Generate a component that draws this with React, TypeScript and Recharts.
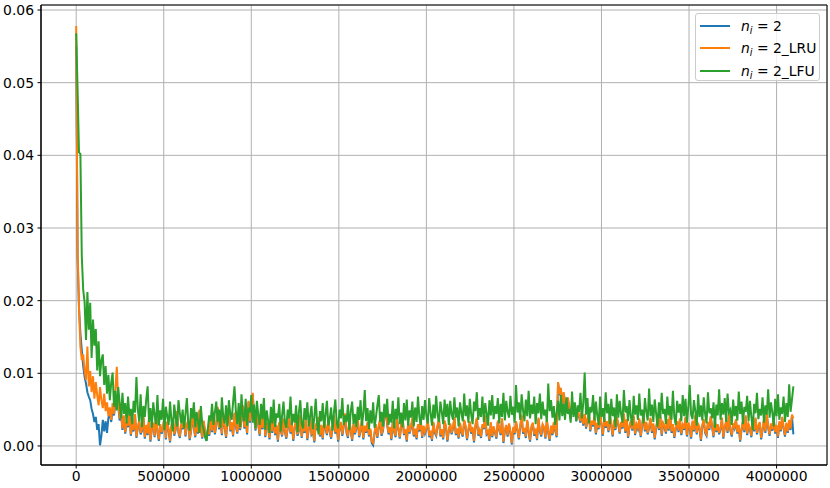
import React from 'react';
import { LineChart, Line, XAxis, YAxis, CartesianGrid, ReferenceArea } from 'recharts';

const X_STEP = 8000;

const nI2 = [
  55.0, 26.0, 19.0, 15.5, 13.2, 11.0, 9.5, 8.6, 7.4, 6.8,
  6.3, 5.1, 4.4, 3.3, 4.0, 2.2, 3.0, 0.1, 1.4, 3.6,
  2.0, 3.4, 1.8, 3.9, 4.5, 3.3, 5.0, 4.2, 5.8, 6.4,
  5.6, 3.5, 4.7, 2.2, 4.0, 1.7, 3.1, 2.6, 4.4, 1.4,
  2.9, 2.0, 4.2, 1.1, 2.5, 3.3, 1.6, 2.1, 3.9, 1.0,
  2.7, 1.5, 3.6, 0.6, 2.3, 3.0, 1.2, 4.3, 1.9, 0.7,
  2.8, 1.7, 2.4, 4.0, 0.9, 3.2, 2.1, 0.5, 2.6, 3.7,
  1.4, 2.2, 4.6, 1.8, 1.1, 2.9, 2.3, 3.8, 1.3, 2.7,
  3.4, 0.8, 2.0, 4.1, 2.5, 1.2, 3.1, 1.7, 4.8, 2.4,
  1.0, 3.3, 1.8, 0.7, 2.2, 1.4, 3.6, 1.9, 4.5, 1.6,
  2.8, 5.2, 2.3, 3.7, 1.5, 4.2, 2.6, 1.1, 3.4, 4.9,
  2.0, 3.1, 1.3, 4.4, 2.7, 1.7, 3.9, 2.2, 3.5, 5.4,
  2.4, 3.8, 1.6, 6.0, 3.2, 5.3, 7.1, 4.0, 2.1, 4.8,
  2.9, 1.4, 3.7, 2.3, 4.6, 1.2, 3.0, 2.5, 0.9, 3.4,
  1.8, 4.2, 1.5, 2.7, 0.6, 3.1, 2.2, 1.3, 3.6, 1.9,
  1.0, 2.4, 3.9, 1.7, 2.8, 0.7, 2.5, 3.3, 1.4, 2.1,
  4.1, 1.1, 2.6, 1.8, 3.4, 0.8, 2.3, 3.7, 1.6, 2.0,
  0.5, 2.9, 2.2, 3.8, 1.3, 2.7, 0.9, 3.2, 2.4, 1.5,
  3.6, 1.9, 1.0, 2.5, 4.0, 1.7, 2.8, 0.6, 2.3, 3.1,
  1.4, 2.7, 4.3, 1.8, 1.1, 3.3, 2.1, 0.7, 2.9, 1.6,
  2.4, 3.7, 1.2, 2.0, 3.4, 0.9, 2.6, 1.8, 3.1, 1.3,
  2.2, 0.4, 0.1, 1.7, 2.8, 1.1, 2.5, 3.6, 1.4, 2.1,
  3.8, 5.0, 2.9, 1.6, 2.4, 0.8, 3.2, 1.9, 1.2, 3.5,
  2.3, 1.0, 2.7, 3.9, 1.5, 2.1, 0.6, 3.0, 1.7, 2.5,
  3.7, 1.3, 2.2, 0.9, 2.8, 2.0, 3.4, 1.1, 2.6, 1.7,
  2.3, 3.5, 1.2, 1.9, 0.7, 3.1, 1.8, 1.4, 2.7, 3.6,
  1.3, 2.1, 0.9, 3.3, 2.5, 0.6, 2.0, 2.9, 1.6, 2.4,
  3.8, 1.5, 2.2, 1.0, 3.0, 1.8, 1.3, 3.4, 2.6, 0.8,
  2.1, 3.2, 1.7, 2.4, 0.5, 2.7, 3.7, 1.4, 2.0, 1.1,
  2.8, 2.3, 4.0, 1.6, 1.9, 0.7, 3.1, 1.2, 2.5, 1.8,
  1.0, 3.3, 2.2, 1.5, 3.6, 0.4, 2.0, 2.7, 1.3, 2.9,
  1.8, 0.2, 2.4, 1.6, 3.2, 2.1, 0.9, 2.6, 4.1, 1.7,
  2.3, 1.1, 3.4, 1.9, 0.6, 2.5, 3.0, 1.4, 2.2, 0.8,
  3.7, 2.0, 1.3, 2.8, 2.4, 1.0, 3.5, 1.8, 0.7, 2.6,
  1.5, 3.1, 2.1, 1.2, 8.6, 7.3, 7.8, 5.4, 7.2, 5.9,
  4.6, 6.5, 5.1, 3.7, 5.8, 4.3, 5.5, 3.4, 4.9, 4.0,
  3.2, 4.7, 2.8, 4.2, 2.4, 3.6, 4.4, 2.0, 3.3, 2.7,
  3.9, 1.6, 3.0, 2.3, 4.5, 2.8, 1.4, 3.7, 2.5, 3.2,
  1.9, 4.1, 2.7, 1.3, 3.4, 2.2, 3.8, 2.9, 1.7, 3.1,
  2.4, 4.3, 1.8, 3.5, 1.1, 2.6, 3.3, 2.1, 4.0, 1.5,
  2.8, 2.3, 3.6, 1.2, 2.7, 4.2, 2.0, 3.1, 1.6, 2.5,
  3.7, 1.8, 2.9, 0.9, 2.4, 3.4, 2.2, 3.9, 1.4, 3.0,
  2.6, 1.7, 3.5, 2.1, 4.4, 1.8, 2.8, 1.1, 2.3, 3.2,
  1.9, 3.6, 1.5, 2.7, 2.2, 3.8, 1.3, 3.0, 2.5, 1.0,
  3.3, 2.0, 4.1, 1.6, 2.8, 2.4, 0.7, 2.7, 3.5, 1.8,
  1.4, 3.1, 2.2, 3.9, 2.6, 1.2, 3.4, 1.9, 2.8, 1.6,
  2.3, 3.7, 1.0, 2.5, 3.2, 1.8, 4.2, 2.1, 1.3, 2.9,
  2.4, 3.5, 1.7, 2.7, 0.6, 2.2, 3.3, 1.9, 4.0, 1.5,
  2.8, 2.3, 1.2, 3.4, 2.0, 3.7, 1.6, 2.6, 3.1, 0.9,
  2.2, 3.5, 1.8, 4.3, 2.5, 1.4, 2.9, 2.1, 3.6, 1.7,
  2.7, 1.1, 3.2, 2.0, 3.8, 2.4, 1.3, 3.0, 1.8, 3.4,
  2.2, 4.1, 1.6,
];

const nI2Lru = [
  57.8, 27.2, 19.0, 13.7, 11.8, 12.6, 10.4, 9.1, 13.7, 8.2,
  10.3, 7.4, 9.6, 6.5, 8.8, 7.0, 5.6, 8.1, 6.3, 5.2,
  7.2, 4.8, 6.0, 4.1, 5.3, 3.6, 5.9, 4.4, 7.8, 10.9,
  6.1, 3.8, 5.0, 2.4, 4.2, 1.9, 3.3, 2.8, 4.6, 1.6,
  3.1, 2.2, 4.4, 1.3, 2.7, 3.5, 1.8, 2.3, 4.1, 1.2,
  2.9, 1.7, 3.8, 0.8, 2.5, 3.2, 1.4, 4.5, 2.1, 0.9,
  3.0, 1.9, 2.6, 4.2, 1.1, 3.4, 2.3, 0.7, 2.8, 3.9,
  1.6, 2.4, 4.8, 2.0, 1.3, 3.1, 2.5, 4.0, 1.5, 2.9,
  3.6, 1.0, 2.2, 4.3, 2.7, 1.4, 3.3, 1.9, 5.0, 2.6,
  1.2, 3.5, 2.0, 0.9, 2.4, 1.6, 3.8, 2.1, 4.7, 1.8,
  3.0, 5.4, 2.5, 3.9, 1.7, 4.4, 2.8, 1.3, 3.6, 5.1,
  2.2, 3.3, 1.5, 4.6, 2.9, 1.9, 4.1, 2.4, 3.7, 5.6,
  2.6, 4.0, 1.8, 6.2, 3.4, 5.5, 7.3, 4.2, 2.3, 5.0,
  3.1, 1.6, 3.9, 2.5, 4.8, 1.4, 3.2, 2.7, 1.1, 3.6,
  2.0, 4.4, 1.7, 2.9, 0.8, 3.3, 2.4, 1.5, 3.8, 2.1,
  1.2, 2.6, 4.1, 1.9, 3.0, 0.9, 2.7, 3.5, 1.6, 2.3,
  4.3, 1.3, 2.8, 2.0, 3.6, 1.0, 2.5, 3.9, 1.8, 2.2,
  0.7, 3.1, 2.4, 4.0, 1.5, 2.9, 1.1, 3.4, 2.6, 1.7,
  3.8, 2.1, 1.2, 2.7, 4.2, 1.9, 3.0, 0.8, 2.5, 3.3,
  1.6, 2.9, 4.5, 2.0, 1.3, 3.5, 2.3, 0.9, 3.1, 1.8,
  2.6, 3.9, 1.4, 2.2, 3.6, 1.1, 2.8, 2.0, 3.3, 1.5,
  2.4, 0.6, 0.4, 1.9, 3.0, 1.3, 2.7, 3.8, 1.6, 2.3,
  4.0, 5.2, 3.1, 1.8, 2.6, 1.0, 3.4, 2.1, 1.4, 3.7,
  2.5, 1.2, 2.9, 4.1, 1.7, 2.3, 0.8, 3.2, 1.9, 2.7,
  3.9, 1.5, 2.4, 1.1, 3.0, 2.2, 3.6, 1.3, 2.8, 1.9,
  2.5, 3.7, 1.4, 2.1, 0.9, 3.3, 2.0, 1.6, 2.9, 3.8,
  1.5, 2.3, 1.1, 3.5, 2.7, 0.8, 2.2, 3.1, 1.8, 2.6,
  4.0, 1.7, 2.4, 1.2, 3.2, 2.0, 1.5, 3.6, 2.8, 1.0,
  2.3, 3.4, 1.9, 2.6, 0.7, 2.9, 3.9, 1.6, 2.2, 1.3,
  3.0, 2.5, 4.2, 1.8, 2.1, 0.9, 3.3, 1.4, 2.7, 2.0,
  1.2, 3.5, 2.4, 1.7, 3.8, 0.6, 2.2, 2.9, 1.5, 3.1,
  2.0, 0.4, 2.6, 1.8, 3.4, 2.3, 1.1, 2.8, 4.3, 1.9,
  2.5, 1.3, 3.6, 2.1, 0.8, 2.7, 3.2, 1.6, 2.4, 1.0,
  3.9, 2.2, 1.5, 3.0, 2.6, 1.2, 3.7, 2.0, 0.9, 2.8,
  1.7, 3.3, 2.3, 1.4, 8.8, 7.2, 8.0, 5.6, 7.4, 6.1,
  4.8, 6.7, 5.3, 3.9, 6.0, 4.5, 5.7, 3.6, 5.1, 4.2,
  3.4, 4.9, 3.0, 4.4, 2.6, 3.8, 4.6, 2.2, 3.5, 2.9,
  4.1, 1.8, 3.2, 2.5, 4.7, 3.0, 1.6, 3.9, 2.7, 3.4,
  2.1, 4.3, 2.9, 1.5, 3.6, 2.4, 4.0, 3.1, 1.9, 3.3,
  2.6, 4.5, 2.0, 3.7, 1.3, 2.8, 3.5, 2.3, 4.2, 1.7,
  3.0, 2.5, 3.8, 1.4, 2.9, 4.4, 2.2, 3.3, 1.8, 2.7,
  3.9, 2.0, 3.1, 1.1, 2.6, 3.6, 2.4, 4.1, 1.6, 3.2,
  2.8, 1.9, 3.7, 2.3, 4.6, 2.0, 3.0, 1.3, 2.5, 3.4,
  2.1, 3.8, 1.7, 2.9, 2.4, 4.0, 1.5, 3.2, 2.7, 1.2,
  3.5, 2.2, 4.3, 1.8, 3.0, 2.6, 0.9, 2.9, 3.7, 2.0,
  1.6, 3.3, 2.4, 4.1, 2.8, 1.4, 3.6, 2.1, 3.0, 1.8,
  2.5, 3.9, 1.2, 2.7, 3.4, 2.0, 4.4, 2.3, 1.5, 3.1,
  2.6, 3.7, 1.9, 2.9, 0.8, 2.4, 3.5, 2.1, 4.2, 1.7,
  3.0, 2.5, 1.4, 3.6, 2.2, 3.9, 1.8, 2.8, 3.3, 1.1,
  2.4, 3.7, 2.0, 4.5, 2.7, 1.6, 3.1, 2.3, 3.8, 1.9,
  2.9, 1.3, 3.4, 2.2, 4.0, 2.6, 1.5, 3.2, 2.0, 3.6,
  2.4, 4.3, 3.8,
];

const nI2Lfu = [
  56.8, 49.0, 40.4, 40.2, 26.1, 21.5, 19.8, 14.6, 21.2, 16.0,
  19.7, 12.1, 17.4, 13.8, 16.1, 10.4, 14.4, 9.6, 11.8, 12.6,
  8.4, 11.0, 7.2, 9.8, 6.3, 8.7, 10.1, 5.4, 7.6, 4.9,
  8.1, 6.0, 3.8, 7.3, 4.4, 5.9, 3.1, 6.8, 4.2, 5.1,
  3.0, 6.2, 4.6, 9.5, 5.0, 3.4, 7.1, 2.6, 5.5, 4.0,
  6.4, 8.2, 3.3, 5.2, 2.5, 6.0, 4.3, 3.0, 7.0, 2.8,
  4.9, 3.6, 6.5, 2.2, 5.4, 4.1, 2.9, 6.1, 3.5, 2.0,
  5.7, 3.9, 2.7, 6.3, 4.5, 3.1, 5.0, 2.4, 4.4, 6.6,
  3.2, 2.1, 5.2, 3.8, 6.0, 2.6, 4.7, 3.3, 1.8, 5.5,
  3.0, 2.3, 1.2, 0.7, 2.4, 4.2, 3.4, 5.8, 2.9, 4.6,
  6.1, 3.3, 5.0, 2.5, 6.7, 4.0, 3.1, 5.6, 2.7, 6.3,
  4.4, 3.6, 6.0, 8.2, 4.8, 3.0, 5.9, 2.6, 7.1, 4.1,
  3.4, 6.5, 2.8, 5.3, 4.6, 7.0, 3.2, 5.7, 2.4, 6.2,
  4.3, 2.9, 5.8, 3.7, 6.6, 2.2, 4.9, 3.5, 1.8, 5.4,
  3.1, 6.4, 2.6, 4.5, 3.9, 5.8, 2.0, 4.2, 6.1, 3.3,
  2.5, 5.0, 3.8, 6.8, 2.9, 4.4, 3.2, 5.6, 1.9, 4.7,
  6.3, 3.0, 2.4, 5.2, 3.6, 6.0, 2.7, 4.1, 5.5, 2.3,
  3.9, 6.5, 3.1, 1.6, 4.8, 3.4, 5.9, 2.5, 4.3, 6.2,
  2.8, 3.7, 5.3, 2.1, 4.6, 6.4, 3.2, 2.4, 5.0, 3.8,
  6.6, 2.9, 4.2, 3.3, 5.7, 2.2, 4.8, 6.1, 3.0, 4.4,
  2.6, 5.4, 3.6, 6.3, 2.8, 4.5, 7.7, 3.4, 5.2, 2.3,
  4.9, 3.1, 6.0, 2.5, 4.0, 5.6, 7.0, 3.3, 4.7, 2.7,
  5.8, 3.9, 6.5, 2.9, 4.4, 3.2, 6.2, 2.4, 5.1, 3.7,
  6.7, 3.0, 4.6, 2.6, 5.9, 3.5, 6.4, 2.8, 4.9, 3.9,
  6.1, 2.7, 5.3, 3.3, 6.8, 4.0, 2.9, 5.5, 3.6, 6.3,
  4.1, 3.1, 6.6, 4.5, 2.8, 5.7, 3.8, 6.9, 4.2, 3.3,
  6.1, 4.7, 3.0, 6.4, 4.0, 5.8, 2.9, 6.2, 4.4, 3.6,
  6.7, 3.9, 5.3, 2.7, 6.0, 4.6, 3.4, 7.2, 4.1, 5.6,
  3.2, 6.5, 4.3, 3.0, 6.1, 4.8, 7.4, 3.6, 5.2, 4.0,
  6.8, 3.3, 5.9, 4.5, 2.8, 6.3, 4.2, 7.0, 3.7, 5.5,
  4.4, 6.6, 3.1, 5.8, 4.0, 7.3, 3.5, 6.2, 4.7, 3.9,
  6.9, 4.3, 5.4, 3.2, 8.4, 4.6, 6.0, 3.6, 7.1, 4.9,
  3.4, 6.4, 4.1, 7.6, 3.8, 5.7, 4.4, 6.8, 3.0, 5.9,
  4.5, 7.2, 3.7, 6.1, 4.2, 5.0, 3.3, 8.6, 4.8, 6.3,
  3.9, 5.5, 2.9, 4.6, 6.2, 3.5, 7.0, 4.1, 5.8, 3.6,
  6.7, 4.4, 5.1, 3.2, 7.5, 4.0, 6.0, 3.4, 5.6, 4.7,
  7.3, 3.8, 5.9, 10.1, 4.3, 6.6, 3.1, 5.4, 4.6, 7.0,
  3.5, 6.1, 4.2, 2.9, 6.8, 4.0, 5.2, 3.3, 7.4, 4.5,
  5.8, 3.0, 6.5, 4.1, 5.3, 2.6, 7.1, 3.9, 6.2, 4.4,
  3.2, 7.7, 4.6, 5.5, 3.4, 6.3, 4.0, 2.8, 6.9, 4.3,
  5.6, 3.6, 7.2, 4.2, 5.0, 3.1, 6.6, 4.7, 3.5, 7.9,
  4.1, 5.7, 3.3, 6.4, 4.5, 2.7, 6.0, 3.8, 7.3, 4.4,
  5.1, 3.0, 6.8, 4.2, 5.5, 3.6, 7.6, 4.0, 2.9, 6.2,
  4.6, 5.8, 3.4, 7.0, 4.1, 6.5, 3.2, 5.3, 8.4, 4.3,
  3.7, 6.3, 4.8, 2.8, 7.1, 4.0, 5.6, 3.5, 6.7, 4.4,
  3.1, 7.4, 4.5, 5.2, 3.8, 6.0, 2.5, 5.7, 4.2, 7.8,
  3.6, 5.9, 4.3, 6.6, 3.3, 7.2, 4.6, 5.0, 2.9, 6.4,
  4.1, 5.5, 3.5, 7.5, 4.4, 6.1, 3.0, 5.4, 4.7, 6.9,
  3.4, 6.2, 4.0, 2.2, 5.8, 4.5, 7.3, 3.7, 5.1, 4.2,
  6.7, 3.2, 5.6, 4.3, 7.8, 3.9, 6.0, 4.6, 2.7, 6.5,
  4.1, 7.1, 3.6, 5.3, 4.4, 6.8, 3.3, 5.9, 4.0, 8.5,
  4.7, 6.4, 8.2,
];

const X_TICKS = [0, 500000, 1000000, 1500000, 2000000, 2500000, 3000000, 3500000, 4000000];
const Y_TICKS = [0, 0.01, 0.02, 0.03, 0.04, 0.05, 0.06];

const X_DOMAIN: [number, number] = [-201000, 4288000];
const Y_DOMAIN: [number, number] = [-0.00262, 0.06069];

const SERIES = [
  { key: 'blue', label: '2', color: '#1f77b4' },
  { key: 'orange', label: '2_LRU', color: '#ff7f0e' },
  { key: 'green', label: '2_LFU', color: '#2ca02c' },
];

const FONT = '"DejaVu Sans", sans-serif';
const tickStyle = { fontSize: 13.9, fill: '#000', fontFamily: FONT };

const rows = nI2.map((v, i) => ({
  x: i * X_STEP,
  blue: v / 1000,
  orange: nI2Lru[i] / 1000,
  green: nI2Lfu[i] / 1000,
}));

const MathLabel = ({ suffix }: { suffix: string }) => (
  <span>
    <i>n</i>
    <i style={{ fontSize: '0.7em', position: 'relative', top: '0.3em' }}>i</i>
    {' = '}
    {suffix}
  </span>
);

export default function App() {
  return (
    <div style={{ position: 'absolute', left: 0, top: 0, width: 830, height: 488, background: '#fff', fontFamily: FONT }}>
      <LineChart width={830} height={488} data={rows} margin={{ top: 5, right: 3, bottom: 0, left: 0 }}>
        <CartesianGrid stroke="#b0b0b0" strokeWidth={1} />
        <XAxis
          type="number"
          dataKey="x"
          domain={X_DOMAIN}
          ticks={X_TICKS}
          allowDataOverflow
          height={23}
          tickSize={3.5}
          tickMargin={3}
          stroke="#000"
          tick={tickStyle}
          interval={0}
        />
        <YAxis
          type="number"
          domain={Y_DOMAIN}
          ticks={Y_TICKS}
          allowDataOverflow
          width={41}
          tickSize={3.5}
          tickMargin={3.5}
          stroke="#000"
          tick={tickStyle}
          tickFormatter={(v: number) => v.toFixed(2)}
          interval={0}
        />
        {SERIES.map(s => (
          <Line
            key={s.key}
            type="linear"
            dataKey={s.key}
            stroke={s.color}
            strokeWidth={2}
            dot={false}
            isAnimationActive={false}
          />
        ))}
        <ReferenceArea
          x1={X_DOMAIN[0]}
          x2={X_DOMAIN[1]}
          y1={Y_DOMAIN[0]}
          y2={Y_DOMAIN[1]}
          fill="none"
          stroke="#000"
          strokeWidth={1}
          ifOverflow="visible"
        />
      </LineChart>

      <div
        style={{
          position: 'absolute',
          left: 695,
          top: 13,
          width: 125,
          height: 68,
          border: '1px solid #cccccc',
          borderRadius: 3,
          background: 'rgba(255,255,255,0.8)',
          boxSizing: 'border-box',
        }}
      >
        {SERIES.map((s, i) => (
          <div
            key={s.key}
            style={{
              position: 'absolute',
              left: 4,
              top: 2 + i * 22.3,
              height: 20,
              display: 'flex',
              alignItems: 'center',
              fontSize: 13.9,
              whiteSpace: 'nowrap',
            }}
          >
            <div style={{ width: 30, height: 2, background: s.color, marginRight: 11 }} />
            <MathLabel suffix={s.label} />
          </div>
        ))}
      </div>
    </div>
  );
}
